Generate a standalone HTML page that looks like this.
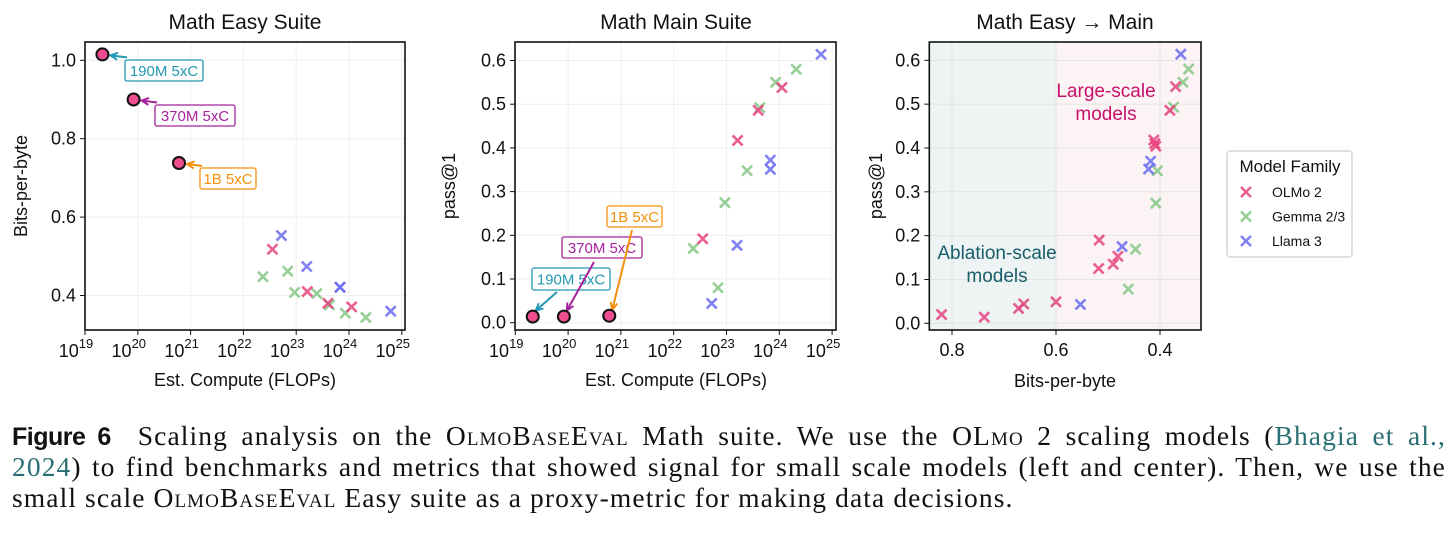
<!DOCTYPE html>
<html><head><meta charset="utf-8">
<style>
body{margin:0;background:#fff;width:1456px;height:534px;overflow:hidden;font-family:"Liberation Sans","DejaVu Sans",sans-serif}
svg{position:absolute;left:0;top:0}
.cap{position:absolute;left:12px;width:1434px;font-family:"Liberation Serif",serif;font-size:27.5px;letter-spacing:1.1px;color:#111;white-space:nowrap;text-align:justify;text-align-last:justify}
.sc{font-variant:small-caps}
.lnk{color:#2a6f73}
</style></head><body>
<svg id="fig" width="1456" height="400"></svg>
<div class="cap" style="top:420px"><b style="font-family:'Liberation Sans',sans-serif;font-size:25px;letter-spacing:-0.5px">Figure 6</b>&nbsp; Scaling analysis on the <span class="sc">OlmoBaseEval</span> Math suite. We use the OL<span class="sc">mo</span> 2 scaling models (<span class="lnk">Bhagia et al.,</span></div>
<div class="cap" style="top:451px"><span class="lnk">2024</span>) to find benchmarks and metrics that showed signal for small scale models (left and center). Then, we use the</div>
<div class="cap" style="top:482px;text-align-last:left">small scale <span class="sc">OlmoBaseEval</span> Easy suite as a proxy-metric for making data decisions.</div>
<script>
// ---- data ----
const smallLogC=[19.33,19.92,20.78];
const smallBpb=[1.015,0.90,0.738];
const smallPass=[0.014,0.014,0.016];
const smallNames=["190M 5xC","370M 5xC","1B 5xC"];
const olmoLogC=[22.55,23.21,23.6,24.05];
const olmoBpb=[0.518,0.41,0.38,0.371];
const olmoPass=[0.192,0.417,0.486,0.538];
const gemmaLogC=[22.37,22.84,22.97,23.39,23.63,23.93,24.32];
const gemmaBpb=[0.448,0.462,0.408,0.405,0.376,0.355,0.344];
const gemmaPass=[0.17,0.08,0.275,0.348,0.492,0.55,0.58];
const llamaLogC=[22.72,23.2,23.83,23.83,24.79];
const llamaBpb=[0.553,0.474,0.421,0.421,0.36];
const llamaPass=[0.044,0.177,0.372,0.351,0.614];
const s3OlmoX=[0.82,0.738,0.672,0.662,0.6,0.518,0.517,0.49,0.481,0.412,0.41,0.408,0.381,0.37];
const s3OlmoY=[0.02,0.014,0.034,0.044,0.049,0.125,0.19,0.135,0.153,0.418,0.41,0.404,0.486,0.54];
const s3GemmaX=[0.461,0.447,0.408,0.405,0.374,0.356,0.345];
const s3GemmaY=[0.078,0.169,0.274,0.348,0.493,0.55,0.58];
const s3LlamaX=[0.553,0.473,0.418,0.422,0.36];
const s3LlamaY=[0.043,0.175,0.37,0.352,0.614];
const logTicks=[19,20,21,22,23,24,25];
const bpbTicks=[0.4,0.6,0.8,1.0];
const passTicks=[0,0.1,0.2,0.3,0.4,0.5,0.6];
const bpbXTicks=[0.8,0.6,0.4];

const NS="http://www.w3.org/2000/svg";
const svg=document.getElementById('fig');
function el(tag,attrs,parent){const e=document.createElementNS(NS,tag);for(const k in attrs)e.setAttribute(k,attrs[k]);(parent||svg).appendChild(e);return e;}
function txt(x,y,s,attrs){const t=el('text',Object.assign({x:x,y:y,'font-size':18,fill:'#111','font-family':'Liberation Sans, sans-serif'},attrs||{}));t.textContent=s;return t;}
const C={olmo:'#e8437f',gemma:'#86c786',llama:'#6c6cf2'};
function cross(x,y,c,name){const g=el('g',{stroke:c,'stroke-width':2.6,opacity:0.85});


el('line',{x1:x-5,y1:y-5,x2:x+5,y2:y+5},g);el('line',{x1:x-5,y1:y+5,x2:x+5,y2:y-5},g);}
function circ(x,y,name){const c=el('circle',{cx:x,cy:y,r:6,fill:'#ee4d8f',stroke:'#111','stroke-width':2});

}
function frame(x0,x1,y0,y1){el('rect',{x:x0,y:y0,width:x1-x0,height:y1-y0,fill:'none',stroke:'#111','stroke-width':1.6});}
function arrowHead(x1,y1,x2,y2,c){const a=Math.atan2(y2-y1,x2-x1),L=8;
el('polyline',{points:`${x2-L*Math.cos(a-0.45)},${y2-L*Math.sin(a-0.45)} ${x2},${y2} ${x2-L*Math.cos(a+0.45)},${y2-L*Math.sin(a+0.45)}`,fill:'none',stroke:c,'stroke-width':2});}
function label(bx,by,w,h,s,c,ax1,ay1,ax2,ay2,name){
 el('line',{x1:ax1,y1:ay1,x2:ax2,y2:ay2,stroke:c,'stroke-width':2});arrowHead(ax1,ay1,ax2,ay2,c);
 const r=el('rect',{x:bx,y:by,width:w,height:h,rx:2,fill:'#fff',stroke:c,'stroke-width':1.3});
 
 
 txt(bx+w/2,by+h/2+5.5,s,{'text-anchor':'middle',fill:c,'font-size':15});}
const labC=['#2398b3','#a6239c','#f4900c'];

// ---- chart 1 ----
(function(){
 const x0=85,x1=405,y0=42,y1=330;
 const X=v=>85+(v-19)*52.8, Y=v=>60.3+(1.0-v)*392;
 logTicks.forEach(t=>{el('line',{x1:X(t),x2:X(t),y1:y0,y2:y1,stroke:'#eee'});el('line',{x1:X(t),x2:X(t),y1:y1,y2:y1+5,stroke:'#111'});
  const tt=txt(X(t)-9,y1+27,'10',{'text-anchor':'middle'});const s=el('tspan',{dy:-9,'font-size':13},tt);s.textContent=String(t);});
 bpbTicks.forEach(t=>{el('line',{x1:x0,x2:x1,y1:Y(t),y2:Y(t),stroke:'#eee'});el('line',{x1:x0-5,x2:x0,y1:Y(t),y2:Y(t),stroke:'#111'});txt(x0-9,Y(t)+6,t.toFixed(1),{'text-anchor':'end'});});
 frame(x0,x1,y0,y1);
 txt(245,29,'Math Easy Suite',{'text-anchor':'middle','font-size':21});
 txt(245,386,'Est. Compute (FLOPs)',{'text-anchor':'middle'});
 txt(0,0,'Bits-per-byte',{'text-anchor':'middle',transform:'translate(27,186) rotate(-90)'});
 gemmaLogC.forEach((v,i)=>cross(X(v),Y(gemmaBpb[i]),C.gemma,'gemma-point'));
 olmoLogC.forEach((v,i)=>cross(X(v),Y(olmoBpb[i]),C.olmo,'olmo-point'));
 llamaLogC.forEach((v,i)=>cross(X(v),Y(llamaBpb[i]),C.llama,'llama-point'));
 const boxes=[[125,60,78,21],[155,105,80,21],[200,168,56,21]];
 smallLogC.forEach((v,i)=>{const px=X(v),py=Y(smallBpb[i]);const b=boxes[i];
  label(b[0],b[1],b[2],b[3],smallNames[i],labC[i],b[0]+2,py+3,px+8,py+1,'annotation-'+i);circ(px,py,'small-model-point');});
})();

// ---- chart 2 ----
(function(){
 const x0=515,x1=836,y0=42,y1=330;
 const X=v=>515.3+(v-19)*52.8, Y=v=>322.7-v*437;
 logTicks.forEach(t=>{el('line',{x1:X(t),x2:X(t),y1:y0,y2:y1,stroke:'#eee'});el('line',{x1:X(t),x2:X(t),y1:y1,y2:y1+5,stroke:'#111'});
  const tt=txt(X(t)-9,y1+27,'10',{'text-anchor':'middle'});const s=el('tspan',{dy:-9,'font-size':13},tt);s.textContent=String(t);});
 passTicks.forEach(t=>{el('line',{x1:x0,x2:x1,y1:Y(t),y2:Y(t),stroke:'#eee'});el('line',{x1:x0-5,x2:x0,y1:Y(t),y2:Y(t),stroke:'#111'});txt(x0-9,Y(t)+6,t.toFixed(1),{'text-anchor':'end'});});
 frame(x0,x1,y0,y1);
 txt(676,29,'Math Main Suite',{'text-anchor':'middle','font-size':21});
 txt(676,386,'Est. Compute (FLOPs)',{'text-anchor':'middle'});
 txt(0,0,'pass@1',{'text-anchor':'middle',transform:'translate(455,186) rotate(-90)'});
 gemmaLogC.forEach((v,i)=>cross(X(v),Y(gemmaPass[i]),C.gemma,'gemma-point'));
 olmoLogC.forEach((v,i)=>cross(X(v),Y(olmoPass[i]),C.olmo,'olmo-point'));
 llamaLogC.forEach((v,i)=>cross(X(v),Y(llamaPass[i]),C.llama,'llama-point'));
 const boxes=[[532,268,78,22,557,292],[562,237,80,21,594,262],[607,206,55,21,632,230]];
 smallLogC.forEach((v,i)=>{const px=X(v),py=Y(smallPass[i]);const b=boxes[i];
  label(b[0],b[1],b[2],b[3],smallNames[i],labC[i],b[4],b[5],px+3,py-6,'annotation-'+i);circ(px,py,'small-model-point');});
})();

// ---- chart 3 ----
(function(){
 const x0=929.3,x1=1201,y0=42,y1=330;
 const X=v=>952+(0.8-v)*520, Y=v=>323.3-v*438.3;
 el('rect',{x:x0,y:y0,width:X(0.6)-x0,height:y1-y0,fill:'#eef3f3'});
 el('rect',{x:X(0.6),y:y0,width:x1-X(0.6),height:y1-y0,fill:'#fcf3f5'});
 bpbXTicks.forEach(t=>{el('line',{x1:X(t),x2:X(t),y1:y0,y2:y1,stroke:'#e4e4e4'});el('line',{x1:X(t),x2:X(t),y1:y1,y2:y1+5,stroke:'#111'});txt(X(t),y1+26,t.toFixed(1),{'text-anchor':'middle'});});
 passTicks.forEach(t=>{el('line',{x1:x0,x2:x1,y1:Y(t),y2:Y(t),stroke:'#e4e4e4'});el('line',{x1:x0-5,x2:x0,y1:Y(t),y2:Y(t),stroke:'#111'});txt(x0-9,Y(t)+6,t.toFixed(1),{'text-anchor':'end'});});
 frame(x0,x1,y0,y1);
 txt(1065,29,'Math Easy \u2192 Main',{'text-anchor':'middle','font-size':21});
 txt(1065,387,'Bits-per-byte',{'text-anchor':'middle'});
 txt(0,0,'pass@1',{'text-anchor':'middle',transform:'translate(882,186) rotate(-90)'});
 txt(1106,97,'Large-scale',{'text-anchor':'middle',fill:'#c8106a','font-size':19});
 txt(1106,120,'models',{'text-anchor':'middle',fill:'#c8106a','font-size':19});
 txt(997,259,'Ablation-scale',{'text-anchor':'middle',fill:'#175e6a','font-size':19});
 txt(997,282,'models',{'text-anchor':'middle',fill:'#175e6a','font-size':19});
 s3GemmaX.forEach((v,i)=>cross(X(v),Y(s3GemmaY[i]),C.gemma,'gemma-point'));
 s3OlmoX.forEach((v,i)=>cross(X(v),Y(s3OlmoY[i]),C.olmo,'olmo-point'));
 s3LlamaX.forEach((v,i)=>cross(X(v),Y(s3LlamaY[i]),C.llama,'llama-point'));
 const lg=el('g',{});
 
 
 el('rect',{x:1227,y:151,width:125,height:106,rx:3,fill:'#fff',stroke:'#ccc','stroke-width':1.2},lg);
 txt(1290,172,'Model Family',{'text-anchor':'middle','font-size':17});
 [['OLMo 2',C.olmo],['Gemma 2/3',C.gemma],['Llama 3',C.llama]].forEach((e,i)=>{const y=192+i*24.5;cross(1246,y,e[1],'legend-marker');
  const t=txt(1272,y+5,e[0],{'font-size':14});});
})();
</script>
</body></html>
